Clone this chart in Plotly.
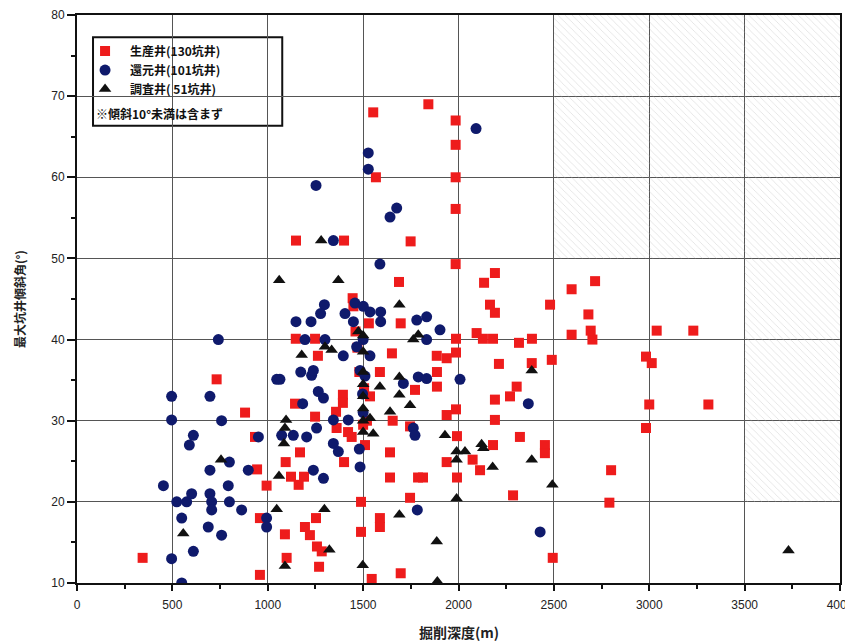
import plotly.graph_objects as go

# ---- data ----
prod_x = [344, 732, 881, 933, 944, 994, 959, 959, 1090, 1147, 1248, 1263, 1143, 1248, 1358, 1361,
          1169, 1094, 1122, 1162, 1190, 1099, 1269, 1253, 1195, 1221, 1258, 1283, 1688, 2134,
          2593, 1445, 2165, 2191, 2480, 1697, 1987, 2095, 2128, 2181, 2317, 2385, 2593, 2702,
          1651, 1886, 1938, 1987, 2212, 2384, 2489, 1588, 1887, 1887, 1394, 1394, 2305, 2270,
          2191, 1938, 1987, 2191, 1655, 1746, 1421, 1440, 1992, 2181, 2322, 2453, 2453, 1641,
          1400, 1938, 2074, 2113, 1641, 1788, 1814, 1992, 2286, 1746, 1489, 1588, 1588, 1489,
          2494, 1697, 1545, 1842, 1985, 1985, 1985, 1985, 1749, 1985, 2191, 2716, 1553, 1567,
          1148, 1400, 2681, 2693, 3039, 3231, 2983, 3013, 3000, 3310, 2983, 2800, 2791, 1449,
          1772, 1536, 1500, 1480, 1520, 1510, 1460, 1530, 1470, 1505]
prod_y = [13.1, 35.1, 31.0, 28.0, 24.0, 22.0, 11.0, 18.0, 16.0, 40.1, 40.1, 38.0, 32.1, 30.5, 31.1, 29.1,
          26.1, 24.9, 23.1, 22.1, 23.1, 13.1, 12.0, 18.0, 16.9, 15.9, 14.5, 13.9, 47.1, 47.0,
          46.2, 45.1, 44.3, 43.3, 44.3, 42.0, 40.1, 40.8, 40.1, 40.1, 39.6, 40.1, 40.6, 40.0,
          38.3, 38.0, 37.7, 38.4, 37.0, 37.1, 37.5, 36.0, 36.0, 34.2, 33.2, 32.2, 34.2, 33.0,
          32.6, 30.7, 31.4, 30.1, 30.0, 29.3, 28.6, 28.0, 28.1, 27.0, 28.0, 27.0, 26.0, 26.1,
          24.9, 24.9, 25.2, 23.9, 23.0, 23.0, 23.0, 23.0, 20.8, 20.5, 20.0, 18.0, 16.9, 16.3,
          13.1, 11.2, 10.5, 69.0, 67.0, 64.0, 60.0, 56.1, 52.1, 49.3, 48.2, 47.2, 68.0, 60.0,
          52.2, 52.2, 43.1, 41.1, 41.1, 41.1, 37.9, 37.1, 32.0, 32.0, 29.1, 23.9, 19.9, 44.1,
          33.8, 33.0, 29.5, 36.0, 30.0, 27.0, 41.0, 42.0, 39.0, 34.0]

inj_x = [1297, 1277, 1148, 1227, 741, 1195, 1300, 1173, 1230, 1239, 1047, 1064, 1265, 1292, 496, 697,
         1183, 496, 758, 951, 610, 589, 1073, 1134, 1204, 1256, 1344, 1344, 1370, 799, 697, 898,
         1239, 1292, 453, 793, 523, 575, 601, 697, 706, 706, 799, 863, 549, 688, 758, 994, 994,
         610, 496, 549, 1527, 1527, 1253, 1676, 1641, 1344, 1588, 2092, 1405, 1457, 1501, 1449,
         1396, 1466, 1422, 1484, 1497, 1536, 1592, 1592, 1781, 1833, 1903, 1833, 1536, 1789, 1833,
         2008, 1711, 1763, 1772, 2366, 2428, 1784, 1484, 1500, 1510, 1500, 1480]
inj_y = [44.3, 43.2, 42.2, 42.2, 40.0, 40.0, 40.0, 36.0, 35.6, 36.2, 35.1, 35.1, 33.6, 32.8, 33.0, 33.0,
         32.1, 30.1, 30.0, 28.0, 28.2, 27.0, 28.2, 28.2, 28.0, 29.1, 30.1, 27.2, 26.2, 24.9, 23.9, 23.9,
         23.9, 22.9, 22.0, 22.0, 20.0, 20.0, 21.0, 21.0, 20.0, 19.0, 20.0, 19.0, 18.0, 16.9, 15.9, 18.0, 16.9,
         13.9, 13.0, 10.0, 63.0, 61.0, 59.0, 56.2, 55.1, 52.2, 49.3, 66.0, 43.2, 44.5, 44.1, 42.2,
         38.0, 39.1, 30.1, 36.2, 33.3, 43.4, 43.4, 42.2, 42.4, 42.8, 41.2, 40.0, 38.0, 35.4, 35.2,
         35.1, 34.6, 29.1, 28.2, 32.1, 16.3, 19.0, 24.3, 40.0, 35.5, 31.0, 26.5]

surv_x = [1280, 1060, 1370, 1178, 1300, 1335, 1096, 1090, 1085, 755, 1059, 1047, 1297, 557, 1323, 1090,
          1475, 1690, 1789, 1763, 1690, 1588, 1690, 1746, 1641, 1536, 1553, 1929, 1990, 1990, 2034,
          2121, 2130, 2179, 2384, 2384, 2492, 1990, 1690, 1886, 1498, 1889, 3730, 1500, 1500, 1500,
          1500, 1500, 1500, 1500, 1500]
surv_y = [52.2, 47.3, 47.3, 38.1, 39.1, 38.7, 30.1, 29.1, 27.2, 25.2, 23.2, 19.1, 19.1, 16.1, 14.1, 12.1,
          41.0, 44.3, 40.6, 40.0, 35.4, 34.2, 33.2, 31.9, 31.1, 30.3, 28.4, 28.2, 26.2, 25.2, 26.2,
          27.1, 26.6, 24.3, 25.2, 36.2, 22.1, 20.4, 18.4, 15.1, 12.2, 10.2, 14.0, 40.5, 38.5, 36.0,
          34.5, 33.0, 31.5, 30.0, 28.6]

# hatched (excluded) region outline
hatch_x = [2500, 4000, 4000, 3500, 3500, 2500, 2500]
hatch_y = [80, 80, 20, 20, 50, 50, 80]

x_ticks = [0, 500, 1000, 1500, 2000, 2500, 3000, 3500, 4000]
y_ticks = [10, 20, 30, 40, 50, 60, 70, 80]

names = ["生産井(130坑井)", "還元井(101坑井)", "調査井( 51坑井)"]
note = "※傾斜10°未満は含まず"
x_title = "掘削深度(m)"
y_title = "最大坑井傾斜角(°)"

FONT = "Liberation Sans, Noto Sans CJK JP, sans-serif"
CJK = "Noto Sans CJK JP, sans-serif"

fig = go.Figure()

fig.add_trace(go.Scatter(
    x=hatch_x, y=hatch_y, mode="lines", fill="toself",
    fillcolor="rgba(0,0,0,0)", line=dict(width=0),
    fillpattern=dict(shape="\\", fgcolor="#bcbcbc", bgcolor="rgba(0,0,0,0)", size=5, solidity=0.14),
    hoverinfo="skip", showlegend=False))

fig.add_trace(go.Scatter(
    x=prod_x, y=prod_y, mode="markers", name=names[0],
    marker=dict(symbol="square", size=10, color="#ee1c1c", line=dict(width=0))))
fig.add_trace(go.Scatter(
    x=inj_x, y=inj_y, mode="markers", name=names[1],
    marker=dict(symbol="circle", size=11, color="#0f1a6c", line=dict(width=0))))
fig.add_trace(go.Scatter(
    x=surv_x, y=surv_y, mode="markers", name=names[2],
    marker=dict(symbol="triangle-up", size=11, color="#111111", line=dict(width=0))))

fig.update_layout(
    width=853, height=644,
    # page body has an 8px margin, so shift everything up/left by 8px
    margin=dict(l=69, r=21, t=7, b=69),
    paper_bgcolor="white", plot_bgcolor="white",
    font=dict(family=FONT, size=12, color="#222"),
    showlegend=True,
    legend=dict(x=0.004, y=0.962, xanchor="left", yanchor="top",
                bgcolor="rgba(0,0,0,0)", borderwidth=0,
                font=dict(family=CJK, size=12, color="#111", weight="bold"),
                tracegroupgap=0, itemwidth=40),
    shapes=[dict(type="rect", xref="paper", yref="paper",
                 x0=0.021, x1=0.269, y0=0.805, y1=0.961,
                 line=dict(color="#111", width=2), fillcolor="white", layer="below")],
    annotations=[
        dict(text=note, xref="paper", yref="paper", x=0.022, y=0.827,
             xanchor="left", yanchor="middle", showarrow=False,
             font=dict(family=CJK, size=12, color="#111", weight="bold")),
        dict(text=x_title, xref="paper", yref="paper", x=0.5, y=-0.086,
             xanchor="center", yanchor="middle", showarrow=False,
             font=dict(family=CJK, size=14, color="#222", weight="bold")),
        dict(text=y_title, xref="paper", yref="paper", x=-0.076, y=0.5, textangle=-90,
             xanchor="center", yanchor="middle", showarrow=False,
             font=dict(family=CJK, size=12, color="#222", weight="bold")),
    ],
    xaxis=dict(range=[0, 4000], tickvals=x_ticks, ticks="outside", ticklen=6, tickwidth=1.5,
               tickcolor="#111", showgrid=True, gridcolor="#555", gridwidth=1,
               showline=True, linecolor="#111", linewidth=2, mirror=True, zeroline=False,
               automargin=False, ticklabelstandoff=4,
               minor=dict(dtick=250, ticks="outside", ticklen=4, tickcolor="#111", showgrid=False),
               tickfont=dict(size=12, color="#222")),
    yaxis=dict(range=[10, 80], tickvals=y_ticks, ticks="outside", ticklen=8, tickwidth=1.5,
               tickcolor="#111", showgrid=True, gridcolor="#555", gridwidth=1,
               showline=True, linecolor="#111", linewidth=2, mirror=True, zeroline=False,
               automargin=False,
               minor=dict(dtick=5, ticks="outside", ticklen=4, tickcolor="#111", showgrid=False),
               tickfont=dict(size=12, color="#222")),
)

fig.write_html("out.html")
